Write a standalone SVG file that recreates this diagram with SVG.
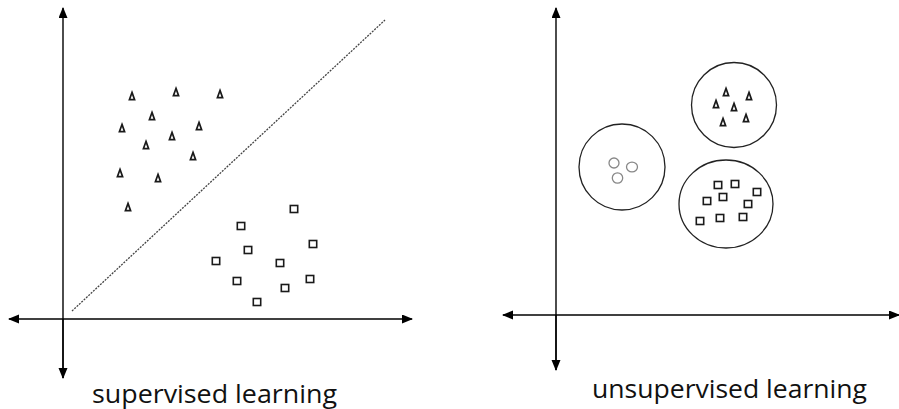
<svg xmlns="http://www.w3.org/2000/svg" xmlns:xlink="http://www.w3.org/1999/xlink" width="899" height="409" viewBox="0 0 899 409">
<style>
.axis{stroke:#000;stroke-width:1.4;fill:none}
.tri{fill:none;stroke:#1a1a1a;stroke-width:1.7;stroke-linejoin:miter}
.sq{fill:none;stroke:#1a1a1a;stroke-width:1.6}
.grp{fill:none;stroke:#222;stroke-width:1.3}
.dot{fill:none;stroke:#888;stroke-width:1.3}
.lbl{font-family:"Open Sans","Liberation Sans",Arial,sans-serif;font-size:25px;fill:#111;text-anchor:middle}
</style>
<defs>
<marker id="ah" markerUnits="userSpaceOnUse" markerWidth="12" markerHeight="10" refX="10" refY="4.5" orient="auto">
<path d="M0,0 L11,4.5 L0,9 Z" fill="#000"/>
</marker>
<path id="tri" d="M0,-3.6 L2.6,3.6 L-2.6,3.6 Z"/>
<rect id="sq" x="-3.7" y="-3.5" width="7.4" height="7"/>
</defs>

<g id="connectors">
<line class="axis" x1="63" y1="378" x2="63" y2="8" marker-end="url(#ah)"/>
<line class="axis" x1="63" y1="319" x2="63" y2="378" marker-end="url(#ah)"/>
<line class="axis" x1="63" y1="319" x2="9" y2="319" marker-end="url(#ah)"/>
<line class="axis" x1="63" y1="319" x2="412" y2="319" marker-end="url(#ah)"/>
<line x1="72" y1="311" x2="385" y2="20" stroke="#444" stroke-width="1.3" stroke-dasharray="2,1.2"/>

<line class="axis" x1="556" y1="370" x2="556" y2="8" marker-end="url(#ah)"/>
<line class="axis" x1="556" y1="315" x2="556" y2="370" marker-end="url(#ah)"/>
<line class="axis" x1="556" y1="315" x2="503" y2="315" marker-end="url(#ah)"/>
<line class="axis" x1="556" y1="315" x2="899" y2="315" marker-end="url(#ah)"/>
</g>

<g id="supervised-triangles" class="tri">
<use xlink:href="#tri" x="132" y="96"/>
<use xlink:href="#tri" x="176" y="92"/>
<use xlink:href="#tri" x="220" y="94"/>
<use xlink:href="#tri" x="152" y="116"/>
<use xlink:href="#tri" x="122" y="128"/>
<use xlink:href="#tri" x="199" y="126"/>
<use xlink:href="#tri" x="172" y="136"/>
<use xlink:href="#tri" x="146" y="145"/>
<use xlink:href="#tri" x="193" y="156"/>
<use xlink:href="#tri" x="120" y="173"/>
<use xlink:href="#tri" x="158" y="178"/>
<use xlink:href="#tri" x="128" y="207"/>
</g>

<g id="supervised-squares" class="sq">
<use xlink:href="#sq" x="294" y="209"/>
<use xlink:href="#sq" x="241" y="226"/>
<use xlink:href="#sq" x="313" y="244"/>
<use xlink:href="#sq" x="248" y="250"/>
<use xlink:href="#sq" x="216" y="261"/>
<use xlink:href="#sq" x="280" y="263"/>
<use xlink:href="#sq" x="237" y="281"/>
<use xlink:href="#sq" x="310" y="279"/>
<use xlink:href="#sq" x="285" y="288"/>
<use xlink:href="#sq" x="257" y="302"/>
</g>

<g id="cluster-circles">
<circle class="grp" cx="622" cy="167" r="43"/>
<circle class="dot" cx="614" cy="163" r="5"/>
<ellipse class="dot" cx="632" cy="167" rx="5.5" ry="4.8"/>
<circle class="dot" cx="617.5" cy="178" r="5.2"/>
</g>

<g id="cluster-triangles">
<circle class="grp" cx="734" cy="105" r="42.5"/>
<g class="tri">
<use xlink:href="#tri" x="726" y="92"/>
<use xlink:href="#tri" x="749" y="96"/>
<use xlink:href="#tri" x="716" y="104"/>
<use xlink:href="#tri" x="734" y="107"/>
<use xlink:href="#tri" x="723" y="122"/>
<use xlink:href="#tri" x="746" y="118"/>
</g>
</g>

<g id="cluster-squares">
<ellipse class="grp" cx="726" cy="204" rx="47" ry="44"/>
<g class="sq">
<use xlink:href="#sq" x="718" y="185"/>
<use xlink:href="#sq" x="735" y="184"/>
<use xlink:href="#sq" x="757" y="192"/>
<use xlink:href="#sq" x="707" y="201"/>
<use xlink:href="#sq" x="723" y="197"/>
<use xlink:href="#sq" x="748" y="204"/>
<use xlink:href="#sq" x="700" y="221"/>
<use xlink:href="#sq" x="720" y="218"/>
<use xlink:href="#sq" x="743" y="217"/>
</g>
</g>

<g id="labels">
<text class="lbl" x="214.5" y="403" textLength="245" lengthAdjust="spacingAndGlyphs">supervised learning</text>
<text class="lbl" x="729.5" y="398" textLength="275" lengthAdjust="spacingAndGlyphs">unsupervised learning</text>
</g>
</svg>
